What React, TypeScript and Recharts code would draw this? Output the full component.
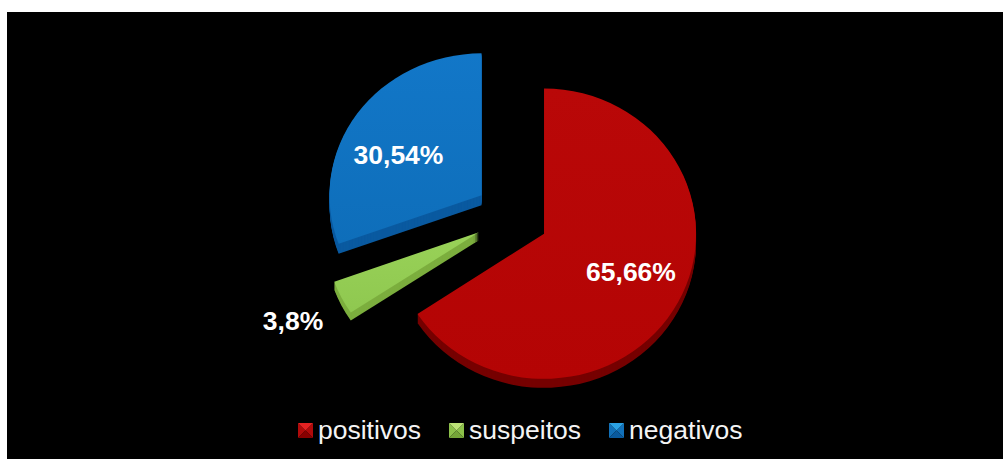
import React from "react";
import { PieChart, Pie, Sector, Legend } from "recharts";

const categories = ["positivos", "suspeitos", "negativos"];
const shares = [65.66, 3.8, 30.54];
const labels = ["65,66%", "3,8%", "30,54%"];

const faceTop = ["#b90808", "#99d258", "#1277c8"];
const faceBottom = ["#b40404", "#8fc850", "#0e6eba"];
const sideColors = ["#760000", "#7cae3e", "#0a5aa0"];
const iconTop = ["#e42222", "#bce276", "#2ba2e4"];
const iconSide = ["#b00a0a", "#8cc04a", "#1270b8"];
const iconBottom = ["#880000", "#74a438", "#0a5a9e"];
const explodeBy = [37.5, 36, 36];
const depthBy = [9, 8, 10];
const squashBy = [0.955, 0.955, 0.934];
const stretchBy = [1, 1.012, 1];
const labelShift = [
  [120, 56],
  [-218, 105],
  [-112.5, -61],
];

const tableData = categories.map((name, i) => ({ name, value: shares[i], index: i, fill: `url(#face${i})` }));

const CX = 511;
const CY = 216;
const R = 152;

function offset(mid: number, e: number) {
  const a = (-mid * Math.PI) / 180;
  return [e * Math.cos(a), e * Math.sin(a)];
}

function Slice(props: any) {
  const { cx, cy, outerRadius, startAngle, endAngle, midAngle, payload } = props;
  const i = payload?.index ?? props.index ?? 0;
  const [dx, dy] = offset(midAngle, explodeBy[i]);
  const base = { cx, cy, innerRadius: 0, outerRadius, startAngle, endAngle };
  const layers = [];
  for (let d = depthBy[i]; d >= 1; d--) layers.push(d);
  const place = (d: number) =>
    `translate(${cx + dx},${cy + dy + d}) scale(${stretchBy[i]},${squashBy[i]}) translate(${-cx},${-cy})`;
  return (
    <g>
      {layers.map((d) => (
        <g key={d} transform={place(d)}>
          <Sector {...base} fill={sideColors[i]} stroke="none" />
        </g>
      ))}
      <g transform={place(0)}>
        <Sector {...base} fill={`url(#face${i})`} stroke="none" />
      </g>
    </g>
  );
}

function SliceLabel(props: any) {
  const { cx, cy, index } = props;
  const [sx, sy] = labelShift[index];
  return (
    <text
      x={cx + sx}
      y={cy + sy}
      fill="#ffffff"
      textAnchor="middle"
      dominantBaseline="central"
      style={{ fontFamily: "'Liberation Sans', Arial, sans-serif", fontSize: 26.5, fontWeight: 700 }}
    >
      {labels[index]}
    </text>
  );
}

function Bevel({ i }: { i: number }) {
  const s = 15;
  const m = s / 2;
  return (
    <svg width={s} height={s} style={{ display: "block" }}>
      <polygon points={`0,0 0,${s} ${m},${m}`} fill={iconSide[i]} />
      <polygon points={`${s},0 ${s},${s} ${m},${m}`} fill={iconSide[i]} />
      <polygon points={`0,${s} ${s},${s} ${m},${m}`} fill={iconBottom[i]} />
      <polygon points={`0,0 ${s},0 ${m},${m}`} fill={iconTop[i]} />
    </svg>
  );
}

function LegendRow() {
  const gaps = [0, 28, 28];
  return (
    <div style={{ display: "flex", alignItems: "center", fontFamily: "'Liberation Sans', Arial, sans-serif", fontSize: 26.5, color: "#f4f4f4", lineHeight: "30px", whiteSpace: "nowrap" }}>
      {categories.map((c, i) => (
        <div key={c} style={{ display: "flex", alignItems: "center", marginLeft: gaps[i] }}>
          <Bevel i={i} />
          <span style={{ marginLeft: 5 }}>{c}</span>
        </div>
      ))}
    </div>
  );
}

export default function App() {
  return (
    <div style={{ position: "fixed", left: 0, top: 0, width: 1003, height: 459, background: "#ffffff", overflow: "hidden" }}>
      <div style={{ position: "absolute", left: 7, top: 12, width: 996, height: 447, background: "#000000" }} />
      <div style={{ position: "absolute", left: 0, top: 0 }}>
        <PieChart width={1003} height={459} margin={{ top: 0, right: 0, bottom: 0, left: 0 }}>
          <defs>
            {categories.map((c, i) => (
              <linearGradient key={c} id={`face${i}`} x1="0" y1="0" x2="0" y2="1">
                <stop offset="0%" stopColor={faceTop[i]} />
                <stop offset="100%" stopColor={faceBottom[i]} />
              </linearGradient>
            ))}
          </defs>
          <Pie
            data={tableData}
            dataKey="value"
            nameKey="name"
            cx={CX}
            cy={CY}
            outerRadius={R}
            innerRadius={0}
            startAngle={90}
            endAngle={-270}
            stroke="none"
            isAnimationActive={false}
            shape={Slice}
            label={SliceLabel}
            labelLine={false}
          />
          <Legend content={LegendRow} wrapperStyle={{ position: "absolute", left: 298, top: 415, width: 480, height: 30 }} />
        </PieChart>
      </div>
    </div>
  );
}
